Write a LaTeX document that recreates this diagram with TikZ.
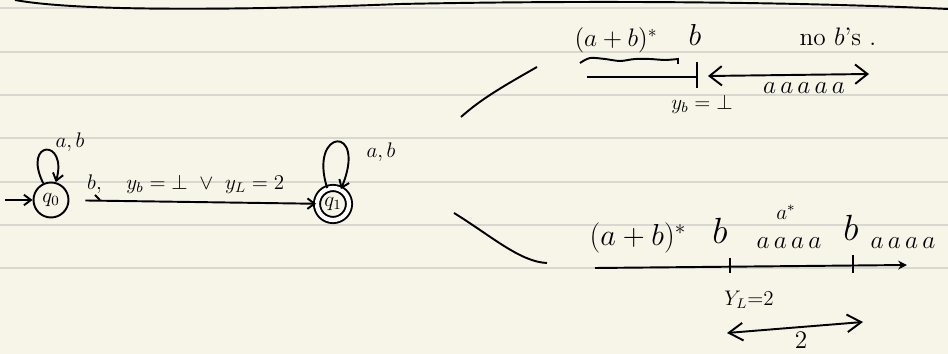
\documentclass[tikz,border=0pt]{standalone}
\usepackage{amsmath}
\usepackage{amssymb}
\usetikzlibrary{
    arrows.meta,
    positioning
}
\definecolor{paper}{HTML}{F7F4E8}
\definecolor{ruling}{HTML}{D8D7D1}

\begin{document}
\begin{tikzpicture}[x=0.02cm,y=-0.02cm,line width=1.1pt,
    state/.style={circle,draw,minimum size=0.7cm,inner sep=0pt},
    accepting/.style={double,double distance=2.4pt,minimum size=0.64cm},
    edge/.style={-{Straight Barb[length=4pt,width=6pt]}},
    both/.style={{Straight Barb[length=7pt,width=11pt]}-{Straight Barb[length=7pt,width=11pt]}},
    font=\Large]

% paper
\path[use as bounding box,fill=paper] (0,0) rectangle (948,354);
\foreach \y in {8,52,95,138,182,225,268}{
    \draw[ruling,line width=0.9pt] (0,\y) -- (948,\y);
}
\draw (15,0) .. controls (80,12) and (250,10) .. (400,4)
      .. controls (600,0) and (800,2) .. (948,9);

% automaton
\node[state] (q0) at (51,200) {\large$q_0$};
\node[state,accepting] (q1) at (333,204) {\large$q_1$};
\coordinate (init) at (5,200);

\draw[edge] (init) -- (q0);
\draw[edge] (q0.115) .. controls (22,140) and (68,138) .. (q0.75);
\draw[edge,shorten <=9pt] (q0) -- node[above=1pt,xshift=-4pt] (lab)
    {\large$b,\quad y_b=\bot\ \vee\ y_L=2$} (q1);
\draw (95,195) -- (100,200);
\draw[edge] (q1.110) .. controls (308,128) and (368,124) .. (q1.62);

\node (ab0) at (70,142) {\large$a,b$};
\node (ab1) at (381,152) {\large$a,b$};

% branches
\draw (461,117) .. controls (480,100) and (500,88) .. (537,67);
\draw (454,213) .. controls (490,235) and (520,262) .. (547,263);

% y_b = bot
\node (re1) at (616,40) {$(a+b)^*$};
\node (b1) at (695,35) {\LARGE$b$};
\node (nob) at (838,37) {no $b$'s .};
\draw plot[smooth] coordinates {(580,63) (590,58) (605,59) (620,61)
    (635,59) (650,59) (665,60) (678,59)} -- (678,64);
\draw (587,77) -- (697,77);
\draw (697,62) -- (697,88);
\draw[both] (708,76) -- (869,74);
\node (as1) at (804,88) {$a\,a\,a\,a\,a$};
\node (yb) at (702,104) {\large$y_b=\bot$};

% y_L = 2
\node (re2) at (638,238) {\LARGE$(a+b)^*$};
\node (b2) at (720,231) {\huge$b$};
\node (ast) at (786,212) {\large$a^*$};
\node (as2) at (789,243) {$a\,a\,a\,a$};
\node (b3) at (851,228) {\huge$b$};
\node (as3) at (903,243) {$a\,a\,a\,a$};
\draw[-{Stealth[length=5pt,width=5pt]}] (595,268) -- (907,265);
\draw (730,258) -- (730,273);
\draw (853,255) -- (853,273);
\node (yl) at (749,300) {\large$Y_L{=}2$};
\draw[{Straight Barb[length=8pt,width=10pt]}-{Straight Barb[length=8pt,width=10pt]}]
    (727,333) -- (863,322);
\node[inner sep=1pt] (two) at (801,340) {\Large$2$};

\end{tikzpicture}
\end{document}
